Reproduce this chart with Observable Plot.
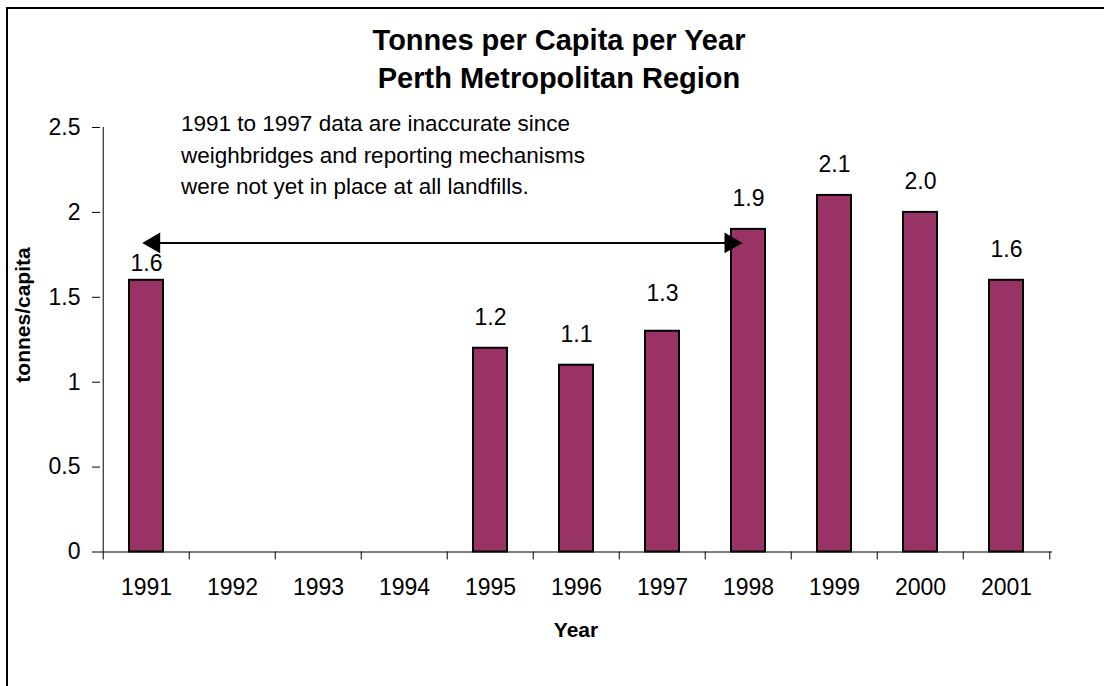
<!DOCTYPE html>
<html>
<head>
<meta charset="utf-8">
<script src="https://cdn.jsdelivr.net/npm/d3@7"></script>
<script src="https://cdn.jsdelivr.net/npm/@observablehq/plot@0.6"></script>
<style>
  html, body { margin: 0; padding: 0; background: #fff; overflow: hidden; }
  #wrap { position: relative; width: 1104px; height: 686px; font-family: "Liberation Sans", Arial, sans-serif; color: #000; }
  #frame { position: absolute; left: 6px; top: 7px; width: 1110px; height: 700px; border-left: 2px solid #000; border-top: 2px solid #000; }
  #chart { position: absolute; left: 0; top: 0; }
  #title { position: absolute; left: 0; width: 1118px; top: 21px; text-align: center; font-weight: bold; font-size: 29px; line-height: 38px; }
  #ylabel { position: absolute; left: 22px; top: 315px; transform: translate(-50%, -50%) rotate(-90deg); font-weight: bold; font-size: 21px; white-space: nowrap; line-height: 21px; }
  #xlabel { position: absolute; left: 476px; width: 200px; top: 619px; text-align: center; font-weight: bold; font-size: 21px; line-height: 21px; }
  #note { position: absolute; left: 181px; top: 108px; font-size: 22.5px; line-height: 31.5px; white-space: nowrap; }
</style>
</head>
<body>
<div id="wrap">
  <div id="chart"></div>
  <div id="frame"></div>
  <div id="title"></div>
  <div id="ylabel"></div>
  <div id="xlabel"></div>
  <div id="note"></div>
</div>
<script>
// ---- data ----
const years = ["1991", "1992", "1993", "1994", "1995", "1996", "1997", "1998", "1999", "2000", "2001"];
const values = [1.6, null, null, null, 1.2, 1.1, 1.3, 1.9, 2.1, 2.0, 1.6];
const yTicks = [0, 0.5, 1, 1.5, 2, 2.5];
const titleLines = ["Tonnes per Capita per Year", "Perth Metropolitan Region"];
const yLabel = "tonnes/capita";
const xLabel = "Year";
const noteLines = [
  "1991 to 1997 data are inaccurate since",
  "weighbridges and reporting mechanisms",
  "were not yet in place at all landfills."
];
const arrowFrom = "1991";
const arrowTo = "1998";
const arrowValue = 1.82;

// ---- styles ----
const W = 1104, H = 686;
const mL = 100, mR = 52, mT = 127, mB = 134.5;
const step = (W - mL - mR) / years.length;
const barColor = "#993366";
const labelNudge = {"1991": -10, "1997": -31};
const labelDefault = -23.5;

const data = years.map((year, i) => ({year, value: values[i]})).filter(d => d.value != null);

document.getElementById("title").innerHTML = titleLines.join("<br>");
document.getElementById("ylabel").textContent = yLabel;
document.getElementById("xlabel").textContent = xLabel;
document.getElementById("note").innerHTML = noteLines.join("<br>");

const chart = Plot.plot({
  width: W,
  height: H,
  marginLeft: mL,
  marginRight: mR,
  marginTop: mT,
  marginBottom: mB,
  style: {fontFamily: "'Liberation Sans', Arial, sans-serif", fontSize: "23px", color: "#000", background: "transparent", overflow: "visible"},
  x: {domain: years, paddingInner: 0.607, paddingOuter: 0.3035, align: 0.5, label: null, axis: null},
  y: {domain: [0, 2.5], label: null, axis: null},
  marks: [
    Plot.ruleX([arrowFrom], {dx: -step / 2, y1: 0, y2: 2.5, stroke: "#000", strokeWidth: 1}),
    Plot.ruleY([0], {stroke: "#000", strokeWidth: 1}),
    Plot.axisY({ticks: yTicks, tickFormat: d => String(d), tickSize: 8, tickPadding: 12, label: null, stroke: "#000", fontSize: 23}),
    Plot.axisX({ticks: years, tickSize: 8, tickFormat: () => "", dx: -step / 2, label: null, stroke: "#000"}),
    Plot.axisX({ticks: [years[years.length - 1]], tickSize: 8, tickFormat: () => "", dx: step / 2, label: null, stroke: "#000"}),
    Plot.axisX({ticks: years, tickSize: 0, tickPadding: 27, label: null, fontSize: 23}),
    Plot.barY(data, {x: "year", y: "value", fill: barColor, stroke: "#000", strokeWidth: 2}),
    Plot.text(data, {
      x: "year", y: "value", text: d => d.value.toFixed(1), fontSize: 23, fill: "#000",
      lineAnchor: "middle",
      dy: 0
    }),
    Plot.arrow([{a: arrowFrom, b: arrowTo, v: arrowValue}], {x1: "a", x2: "b", y1: "v", y2: "v", headLength: 0, insetEnd: 12, stroke: "#000", strokeWidth: 2}),
    Plot.dot([{x: arrowFrom, v: arrowValue}], {x: "x", y: "v", symbol: "triangle", r: 7.7, rotate: -90, dx: 7.7, fill: "#000", stroke: null}),
    Plot.dot([{x: arrowTo, v: arrowValue}], {x: "x", y: "v", symbol: "triangle", r: 7.7, rotate: 90, dx: -18, fill: "#000", stroke: null})
  ]
});

// apply per-label vertical nudges (styling only)
const texts = chart.querySelectorAll("g[aria-label='text'] text");
texts.forEach((t, i) => {
  const d = data[i];
  if (!d) return;
  const dy = labelNudge[d.year] ?? labelDefault;
  const y = parseFloat(t.getAttribute("y"));
  if (!isNaN(y)) t.setAttribute("y", y + dy);
  else {
    const tr = t.getAttribute("transform") || "";
    t.setAttribute("transform", tr + ` translate(0,${dy})`);
  }
});

document.getElementById("chart").appendChild(chart);
</script>
</body>
</html>
